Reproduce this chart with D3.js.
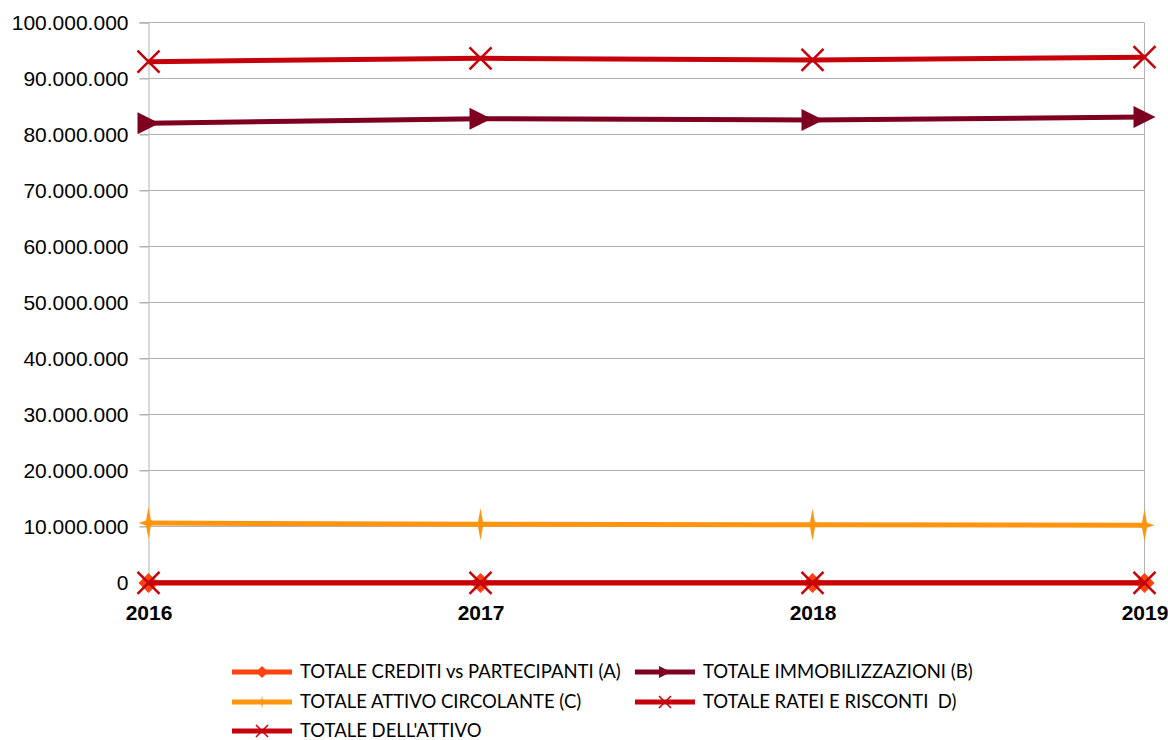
<!DOCTYPE html>
<html lang="en">
<head>
<meta charset="utf-8">
<script src="https://d3js.org/d3.v7.min.js"></script>
<style>
  body { margin: 0; background: #fff; }
  svg { display: block; }
</style>
</head>
<body>
<div id="chart"></div>
<script>
const years = ["2016", "2017", "2018", "2019"];
const seriesNames = [
  "TOTALE CREDITI vs PARTECIPANTI (A)",
  "TOTALE IMMOBILIZZAZIONI (B)",
  "TOTALE ATTIVO CIRCOLANTE (C)",
  "TOTALE RATEI E RISCONTI  D)",
  "TOTALE DELL'ATTIVO"
];
const crediti = [0, 0, 0, 0];
const immobilizzazioni = [82100000, 82900000, 82700000, 83200000];
const circolante = [10700000, 10500000, 10400000, 10300000];
const ratei = [40000, 40000, 40000, 40000];
const attivo = [93100000, 93700000, 93400000, 93900000];
const yTicks = [0, 10000000, 20000000, 30000000, 40000000, 50000000, 60000000, 70000000, 80000000, 90000000, 100000000];

const colors = ["#ff420e", "#7e0021", "#ff950e", "#c5000b", "#c5000b"];
const markers = ["diamond", "triangle", "star", "x", "x"];
const values = [crediti, immobilizzazioni, circolante, ratei, attivo];

const W = 1168, H = 740;
const plotL = 148.5, plotR = 1144.5, plotT = 23, plotB = 583;

const svg = d3.select("#chart").append("svg")
  .attr("width", W).attr("height", H);

const x = d3.scalePoint().domain(years).range([plotL, plotR]);
const y = d3.scaleLinear().domain([0, 100000000]).range([plotB, plotT]);

const fmt = v => d3.format(",")(v).replace(/,/g, ".");

// grid
svg.append("g").selectAll("line").data(yTicks).join("line")
  .attr("x1", plotL - 9).attr("x2", plotR)
  .attr("y1", d => y(d) - 0.5).attr("y2", d => y(d) - 0.5)
  .attr("stroke", "#b3b3b3").attr("stroke-width", 1);
svg.append("line").attr("x1", plotR).attr("x2", plotR)
  .attr("y1", plotT).attr("y2", plotB)
  .attr("stroke", "#b3b3b3");

// axes
const yAxis = svg.append("g").attr("transform", `translate(${plotL},-0.5)`)
  .call(d3.axisLeft(y).tickValues(yTicks).tickFormat(fmt).tickSize(9).tickPadding(11));
yAxis.select(".domain").attr("stroke", "#b3b3b3");
yAxis.selectAll(".tick line").attr("stroke", "#b3b3b3");
yAxis.selectAll("text").attr("font-family", "Liberation Sans, Arial, sans-serif")
  .attr("font-size", 21).attr("fill", "#000");

const xAxis = svg.append("g").attr("transform", `translate(0,${plotB - 0.5})`)
  .call(d3.axisBottom(x).tickSize(8).tickPadding(15));
xAxis.select(".domain").attr("stroke", "#b3b3b3");
xAxis.selectAll(".tick line").attr("stroke", "#b3b3b3");
xAxis.selectAll("text").attr("font-family", "Liberation Sans, Arial, sans-serif")
  .attr("font-size", 21).attr("font-weight", "bold").attr("fill", "#000");

function markerPath(type, s) {
  if (type === "diamond") return `M0,${-s}L${s},0L0,${s}L${-s},0Z`;
  if (type === "triangle") return `M${-s},${-s}L${s},0L${-s},${s}Z`;
  if (type === "star") return `M0,${-s*1.6}L${s*0.25},${-s*0.25}L${s},0L${s*0.25},${s*0.25}L0,${s*1.6}L${-s*0.25},${s*0.25}L${-s},0L${-s*0.25},${-s*0.25}Z`;
  return `M${-s},${-s}L${s},${s}M${s},${-s}L${-s},${s}`;
}
const markerSize = { diamond: 10, triangle: 11, star: 10, x: 11 };

const line = d3.line().x((d, i) => x(years[i])).y(d => y(d));

values.forEach((vals, k) => {
  const g = svg.append("g");
  g.append("path").datum(vals).attr("d", line)
    .attr("fill", "none").attr("stroke", colors[k]).attr("stroke-width", 5);
  g.selectAll("path.m").data(vals).join("path").attr("class", "m")
    .attr("transform", (d, i) => `translate(${x(years[i])},${y(d)})`)
    .attr("d", markerPath(markers[k], markerSize[markers[k]]))
    .attr("fill", markers[k] === "x" ? "none" : colors[k])
    .attr("stroke", colors[k])
    .attr("stroke-width", markers[k] === "x" ? 2.5 : 0);
});

// legend
const legPos = [[232, 672], [635, 672], [232, 702], [635, 702], [232, 731]];
const leg = svg.append("g");
seriesNames.forEach((name, k) => {
  const [lx, ly] = legPos[k];
  leg.append("line").attr("x1", lx).attr("x2", lx + 60).attr("y1", ly).attr("y2", ly)
    .attr("stroke", colors[k]).attr("stroke-width", 5);
  leg.append("path").attr("transform", `translate(${lx + 30},${ly})`)
    .attr("d", markerPath(markers[k], markers[k] === "star" ? 4 : 6))
    .attr("fill", markers[k] === "x" ? "none" : colors[k])
    .attr("stroke", colors[k]).attr("stroke-width", markers[k] === "x" ? 1.5 : 0);
  leg.append("text").attr("x", lx + 68).attr("y", ly).attr("dy", "0.35em")
    .attr("font-family", "Lato, Carlito, sans-serif").attr("font-size", 18.5)
    .style("white-space", "pre")
    .attr("fill", "#000").text(name);
});
</script>
</body>
</html>
